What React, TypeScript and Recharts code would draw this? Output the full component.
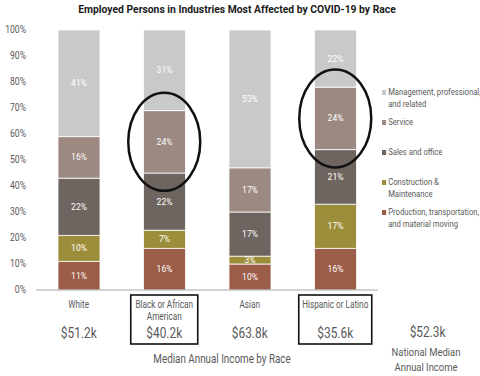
import { BarChart, Bar, XAxis, YAxis, Legend, LabelList, ReferenceDot } from 'recharts';

// values (percent of employed persons)
const categories = ['White', 'Black or African American', 'Asian', 'Hispanic or Latino'];
const tickLines = [['White'], ['Black or African', 'American'], ['Asian'], ['Hispanic or Latino']];
const production = [11, 16, 10, 16];
const construction = [10, 7, 3, 17];
const sales = [22, 22, 17, 21];
const service = [16, 24, 17, 24];
const management = [41, 31, 53, 22];
const incomes = ['$51.2k', '$40.2k', '$63.8k', '$35.6k'];
const nationalIncome = '$52.3k';
const highlighted = ['Black or African American', 'Hispanic or Latino'];
const yTicks = [0, 10, 20, 30, 40, 50, 60, 70, 80, 90, 100];

const series = [
    { key: 'production', name: 'Production, transportation, and material moving', color: '#9B5C48' },
    { key: 'construction', name: 'Construction & Maintenance', color: '#9C8D3A' },
    { key: 'sales', name: 'Sales and office', color: '#6F6560' },
    { key: 'service', name: 'Service', color: '#9C8981' },
    { key: 'management', name: 'Management, professional, and related', color: '#C9C9C9' },
];

const legendLines: Record<string, string[]> = {
    management: ['Management, professional,', 'and related'],
    service: ['Service'],
    sales: ['Sales and office'],
    construction: ['Construction &', 'Maintenance'],
    production: ['Production, transportation,', 'and material moving'],
};

const data = categories.map((name, i) => ({
    name,
    production: production[i],
    construction: construction[i],
    sales: sales[i],
    service: service[i],
    management: management[i],
}));

const FONT = 'Roboto, sans-serif';
const TEXT = '#595959';
const SX = 0.82; // squeeze to look like the condensed font of the original

// svg text squeezed horizontally around its anchor x
function NarrowText({ x, y, size, anchor = 'middle', fill = TEXT, children }: any) {
    return (
        <text
            x={x / SX}
            y={y}
            transform={`scale(${SX} 1)`}
            textAnchor={anchor}
            fontSize={size}
            fontFamily={FONT}
            fill={fill}
        >
            {children}
        </text>
    );
}

function CategoryTick({ x, y, payload }: any) {
    const i = categories.indexOf(payload.value);
    const boxed = highlighted.includes(payload.value);
    const w = payload.value.length > 20 ? 67 : 73;
    return (
        <g>
            {boxed && (
                <rect x={x - w / 2} y={y + 5} width={w} height={49} fill="none" stroke="#111" strokeWidth={1.6} />
            )}
            {tickLines[i].map((line, k) => (
                <NarrowText key={k} x={x} y={y + 18 + k * 12.5} size={10}>
                    {line}
                </NarrowText>
            ))}
            <NarrowText x={x} y={y + 48} size={14.5}>
                {incomes[i]}
            </NarrowText>
        </g>
    );
}

function PercentTick({ x, y, payload }: any) {
    return (
        <NarrowText x={x} y={y + 3.5} size={10.5} anchor="end">
            {`${payload.value}%`}
        </NarrowText>
    );
}

function AxisTitle({ viewBox }: any) {
    const cx = viewBox.x + viewBox.width / 2 + 15;
    return (
        <NarrowText x={cx} y={viewBox.y + 73} size={12}>
            Median Annual Income by Race
        </NarrowText>
    );
}

function renderLegend() {
    const items = [...series].reverse();
    return (
        <div
            style={{
                fontFamily: FONT,
                fontSize: 9.4,
                color: TEXT,
                lineHeight: '11.5px',
                transform: `scaleX(${SX})`,
                transformOrigin: '0 0',
                whiteSpace: 'nowrap',
            }}
        >
            {items.map((s) => (
                <div key={s.key} style={{ display: 'flex', height: 30 }}>
                    <div style={{ width: 5, height: 5, background: s.color, marginTop: 3.5, marginRight: 2.5, flexShrink: 0 }} />
                    <div>
                        {legendLines[s.key].map((l) => (
                            <div key={l}>{l}</div>
                        ))}
                    </div>
                </div>
            ))}
        </div>
    );
}

const ellipseShape = (props: any) => (
    <ellipse cx={props.cx} cy={props.cy} rx={36} ry={49} fill="none" stroke="#111" strokeWidth={2.5} />
);

export default function App() {
    return (
        <div style={{ position: 'relative', width: 480, height: 376, background: '#fff', fontFamily: FONT }}>
            <style>{'body{margin:0}'}</style>
            <div
                style={{
                    position: 'absolute',
                    left: 237,
                    top: 2,
                    transform: 'translateX(-50%) scaleX(0.9)',
                    whiteSpace: 'nowrap',
                    fontWeight: 'bold',
                    fontSize: 11.5,
                    color: '#1A1A1A',
                }}
            >
                Employed Persons in Industries Most Affected by COVID-19 by Race
            </div>
            <BarChart
                width={480}
                height={376}
                data={data}
                margin={{ top: 30, right: 102, bottom: 0, left: 0 }}
                barSize={42}
                style={{ position: 'absolute', left: 0, top: 0 }}
            >
                <YAxis
                    width={36}
                    domain={[0, 100]}
                    ticks={yTicks}
                    interval={0}
                    axisLine={false}
                    tickLine={false}
                    tickSize={0}
                    tickMargin={10}
                    tick={<PercentTick />}
                />
                <XAxis
                    dataKey="name"
                    height={86}
                    interval={0}
                    tickLine={false}
                    tickSize={0}
                    tickMargin={0}
                    axisLine={{ stroke: '#A6A6A6' }}
                    tick={<CategoryTick />}
                    label={<AxisTitle />}
                />
                {series.map((s) => (
                    <Bar
                        key={s.key}
                        dataKey={s.key}
                        name={s.name}
                        stackId="a"
                        fill={s.color}
                        stroke="#fff"
                        strokeWidth={0.8}
                        isAnimationActive={false}
                    >
                        <LabelList
                            dataKey={s.key}
                            position="center"
                            fill="#fff"
                            fontSize={8.5}
                            fontFamily={FONT}
                            formatter={(v: any) => `${v}%`}
                        />
                    </Bar>
                ))}
                {highlighted.map((c) => {
                    const i = categories.indexOf(c);
                    const mid = production[i] + construction[i] + sales[i] + service[i] / 2;
                    return <ReferenceDot key={c} x={c} y={mid} r={1} shape={ellipseShape} ifOverflow="visible" />;
                })}
                <Legend
                    layout="vertical"
                    align="center"
                    verticalAlign="middle"
                    content={renderLegend}
                    wrapperStyle={{ left: 382, top: 86, width: 120 }}
                />
            </BarChart>
            <div
                style={{
                    position: 'absolute',
                    left: 376,
                    width: 100,
                    top: 324,
                    textAlign: 'center',
                    color: TEXT,
                    transform: `scaleX(${SX})`,
                }}
            >
                <div style={{ fontSize: 14.5, marginLeft: 4 }}>{nationalIncome}</div>
                <div style={{ fontSize: 11.5, marginTop: 4, lineHeight: '15px' }}>
                    National Median
                    <br />
                    Annual Income
                </div>
            </div>
        </div>
    );
}
